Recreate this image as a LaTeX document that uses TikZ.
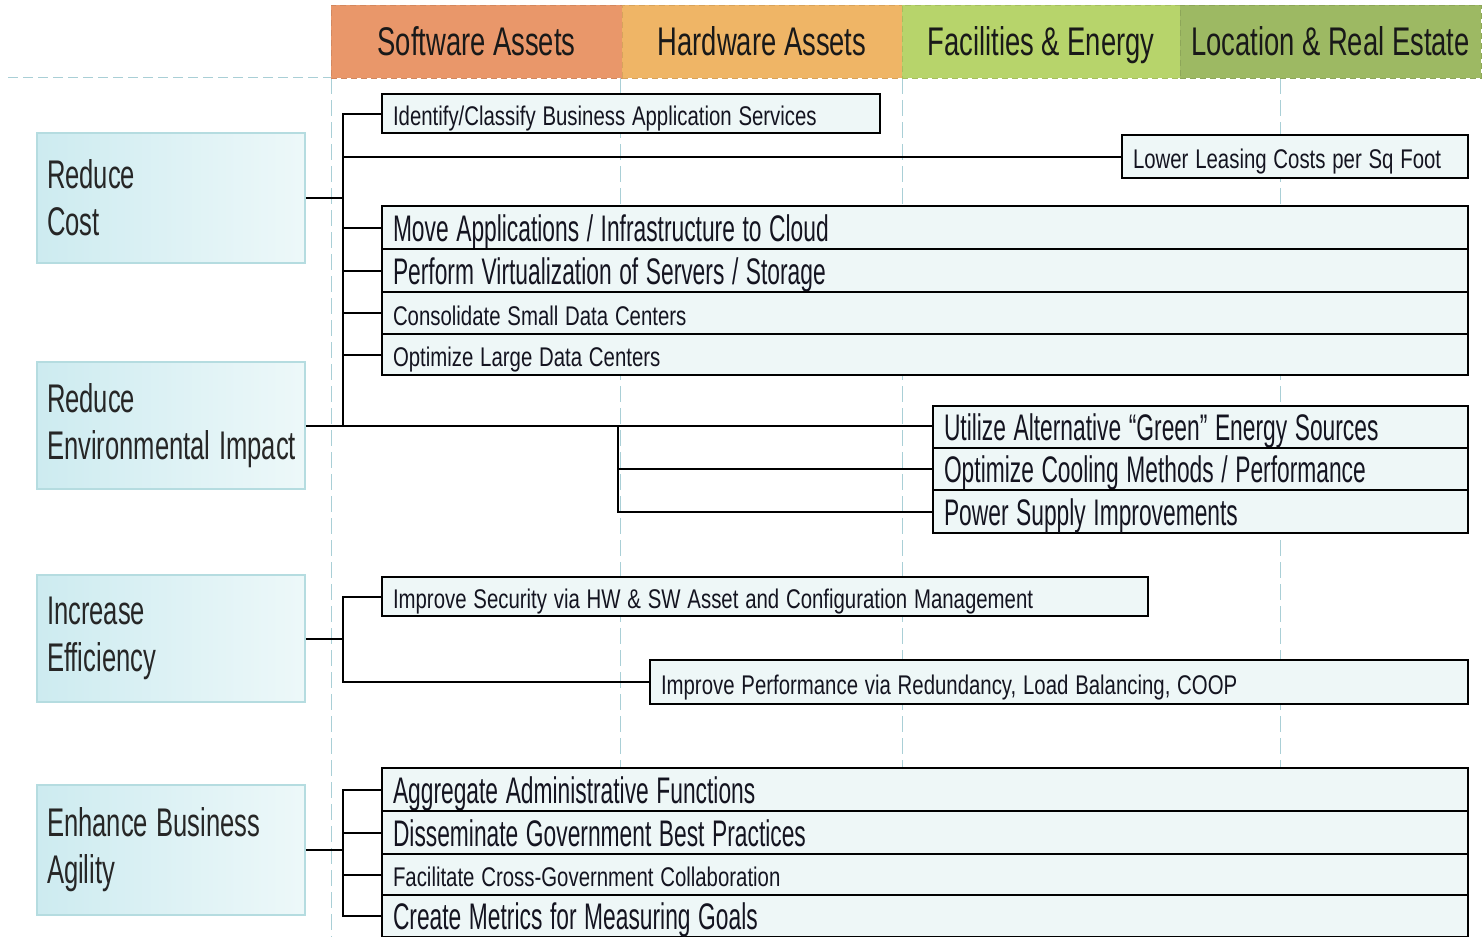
\documentclass[tikz,border=0pt]{standalone}
\usepackage{graphicx}
\usepackage{fontspec}
\setmainfont{Liberation Sans}
\newcommand{\hdrtxt}[1]{\scalebox{0.685}[1]{#1}}
\newcommand{\goaltxt}[1]{\scalebox{0.64}[1]{#1}}
\newcommand{\medtxt}[1]{\scalebox{0.616}[1]{#1}}
\newcommand{\smltxt}[1]{\scalebox{0.755}[1]{#1}}
\definecolor{swc}{HTML}{E9976A}
\definecolor{hwc}{HTML}{EFB566}
\definecolor{fec}{HTML}{B7D46B}
\definecolor{lrc}{HTML}{9DB963}
\definecolor{guide}{HTML}{A9CFD6}
\definecolor{goalborder}{HTML}{B5DCE0}
\definecolor{goalleft}{HTML}{CDEBF0}
\definecolor{goalright}{HTML}{EDF8F9}
\definecolor{goaltext}{HTML}{262626}
\definecolor{itemfill}{HTML}{EEF7F7}
\definecolor{itemtext}{HTML}{141420}
\tikzset{
  guideline/.style={draw=guide, line width=0.5pt, dash pattern=on 8pt off 3pt},
  hdrcell/.style={draw=#1!90!black, line width=0.4pt, densely dashed, fill=#1, minimum height=36.5pt, inner sep=0pt, text height=14.3pt, text depth=0.8pt, font=\fontsize{20}{22}\selectfont, text=black!90},
  goal/.style={draw=goalborder, line width=0.75pt, left color=goalleft, right color=goalright, minimum width=134pt, text width=124pt, inner xsep=5pt, align=left, font=\fontsize{20}{23.5}\selectfont, text=goaltext},
  item/.style={draw=black, line width=1pt, fill=itemfill, anchor=north west, inner xsep=5.5pt, inner ysep=0pt, align=left, text=itemtext},
  med/.style={item, text height=13.5pt, text depth=0pt, font=\fontsize{18.5}{20}\selectfont},
  sml/.style={item, text height=12.5pt, text depth=0.5pt, font=\fontsize{13.5}{15}\selectfont},
  link/.style={draw=black, line width=1pt}
}
\begin{document}
\begin{tikzpicture}[x=0.5pt, y=-0.5pt]
\useasboundingbox (0,0) rectangle (1484,937);

% guide lines
\draw[guideline, dash pattern=on 5pt off 2.5pt] (8,77) -- (331,77);
\draw[guideline] (331,78) -- (331,937);
\draw[guideline] (620,78) -- (620,937);
\draw[guideline] (902,78) -- (902,937);
\draw[guideline] (1280,78) -- (1280,937);

% header
\node[hdrcell=swc, minimum width=145.5pt] (hsw) at (476.5,41.5) {\hdrtxt{Software Assets}};
\node[hdrcell=hwc, minimum width=140pt] (hhw) at (762,41.5) {\hdrtxt{Hardware Assets}};
\node[hdrcell=fec, minimum width=139pt] (hfe) at (1041,41.5) {\hdrtxt{Facilities \& Energy}};
\node[hdrcell=lrc, minimum width=150.5pt] (hlr) at (1330.5,41.5) {\hdrtxt{Location \& Real Estate}};

% goals
\node[goal, minimum height=65pt] (rc) at (171,198) {\goaltxt{Reduce}\\\goaltxt{Cost}};
\node[goal, minimum height=63.5pt] (rei) at (171,425.5) {\goaltxt{Reduce}\\\goaltxt{Environmental Impact}};
\node[goal, minimum height=63.5pt] (ie) at (171,638.5) {\goaltxt{Increase}\\\goaltxt{Efficiency}};
\node[goal, minimum height=65pt] (eba) at (171,850) {\goaltxt{Enhance Business}\\\goaltxt{Agility}};

% items
\node[sml, text width=238pt, minimum height=19.5pt] (ident) at (381,93) {\smltxt{Identify/Classify Business Application Services}};
\node[sml, text width=162pt, minimum height=21.5pt] (lease) at (1121,134) {\smltxt{Lower Leasing Costs per Sq Foot}};
\node[med, text width=532pt, minimum height=21.5pt] (move) at (381,205) {\medtxt{Move Applications / Infrastructure to Cloud}};
\node[med, text width=532pt, minimum height=21.5pt] (virt) at (381,248) {\medtxt{Perform Virtualization of Servers / Storage}};
\node[sml, text width=532pt, minimum height=21pt] (cons) at (381,291) {\smltxt{Consolidate Small Data Centers}};
\node[sml, text width=532pt, minimum height=20.5pt] (olarge) at (381,333) {\smltxt{Optimize Large Data Centers}};
\node[med, text width=256.5pt, minimum height=21pt] (util) at (932,405) {\medtxt{Utilize Alternative “Green” Energy Sources}};
\node[med, text width=256.5pt, minimum height=21pt] (cool) at (932,447) {\medtxt{Optimize Cooling Methods / Performance}};
\node[med, text width=256.5pt, minimum height=21.5pt] (power) at (932,489) {\medtxt{Power Supply Improvements}};
\node[sml, text width=372pt, minimum height=19.5pt] (sec) at (381,576) {\smltxt{Improve Security via HW \& SW Asset and Configuration Management}};
\node[sml, text width=398pt, minimum height=22pt] (perfm) at (649,659) {\smltxt{Improve Performance via Redundancy, Load Balancing, COOP}};
\node[med, text width=532pt, minimum height=21.5pt] (agg) at (381,767) {\medtxt{Aggregate Administrative Functions}};
\node[med, text width=532pt, minimum height=21.5pt] (dis) at (381,810) {\medtxt{Disseminate Government Best Practices}};
\node[sml, text width=532pt, minimum height=20.5pt] (fac) at (381,853) {\smltxt{Facilitate Cross-Government Collaboration}};
\node[med, text width=532pt, minimum height=21pt] (metr) at (381,894) {\medtxt{Create Metrics for Measuring Goals}};

% trunks
\coordinate (tx) at (343,0);
\coordinate (bx) at (618,0);

% reduce cost
\draw[link] (rc.east) -- (rc.east -| tx);
\draw[link] (ident.west) -- (ident.west -| tx) -- (tx |- rei.east);
\draw[link] (tx |- lease.west) -- (lease.west);
\draw[link] (tx |- move.west) -- (move.west);
\draw[link] (tx |- virt.west) -- (virt.west);
\draw[link] (tx |- cons.west) -- (cons.west);
\draw[link] (tx |- olarge.west) -- (olarge.west);

% environment
\draw[link] (rei.east) -- (rei.east -| util.west);
\draw[link] (bx |- rei.east) -- (bx |- power.west) -- (power.west);
\draw[link] (bx |- cool.west) -- (cool.west);

% efficiency
\draw[link] (ie.east) -- (ie.east -| tx);
\draw[link] (sec.west) -- (sec.west -| tx) -- (tx |- perfm.west) -- (perfm.west);

% agility
\draw[link] (eba.east) -- (eba.east -| tx);
\draw[link] (agg.west) -- (agg.west -| tx) -- (tx |- metr.west) -- (metr.west);
\draw[link] (tx |- dis.west) -- (dis.west);
\draw[link] (tx |- fac.west) -- (fac.west);
\end{tikzpicture}
\end{document}
